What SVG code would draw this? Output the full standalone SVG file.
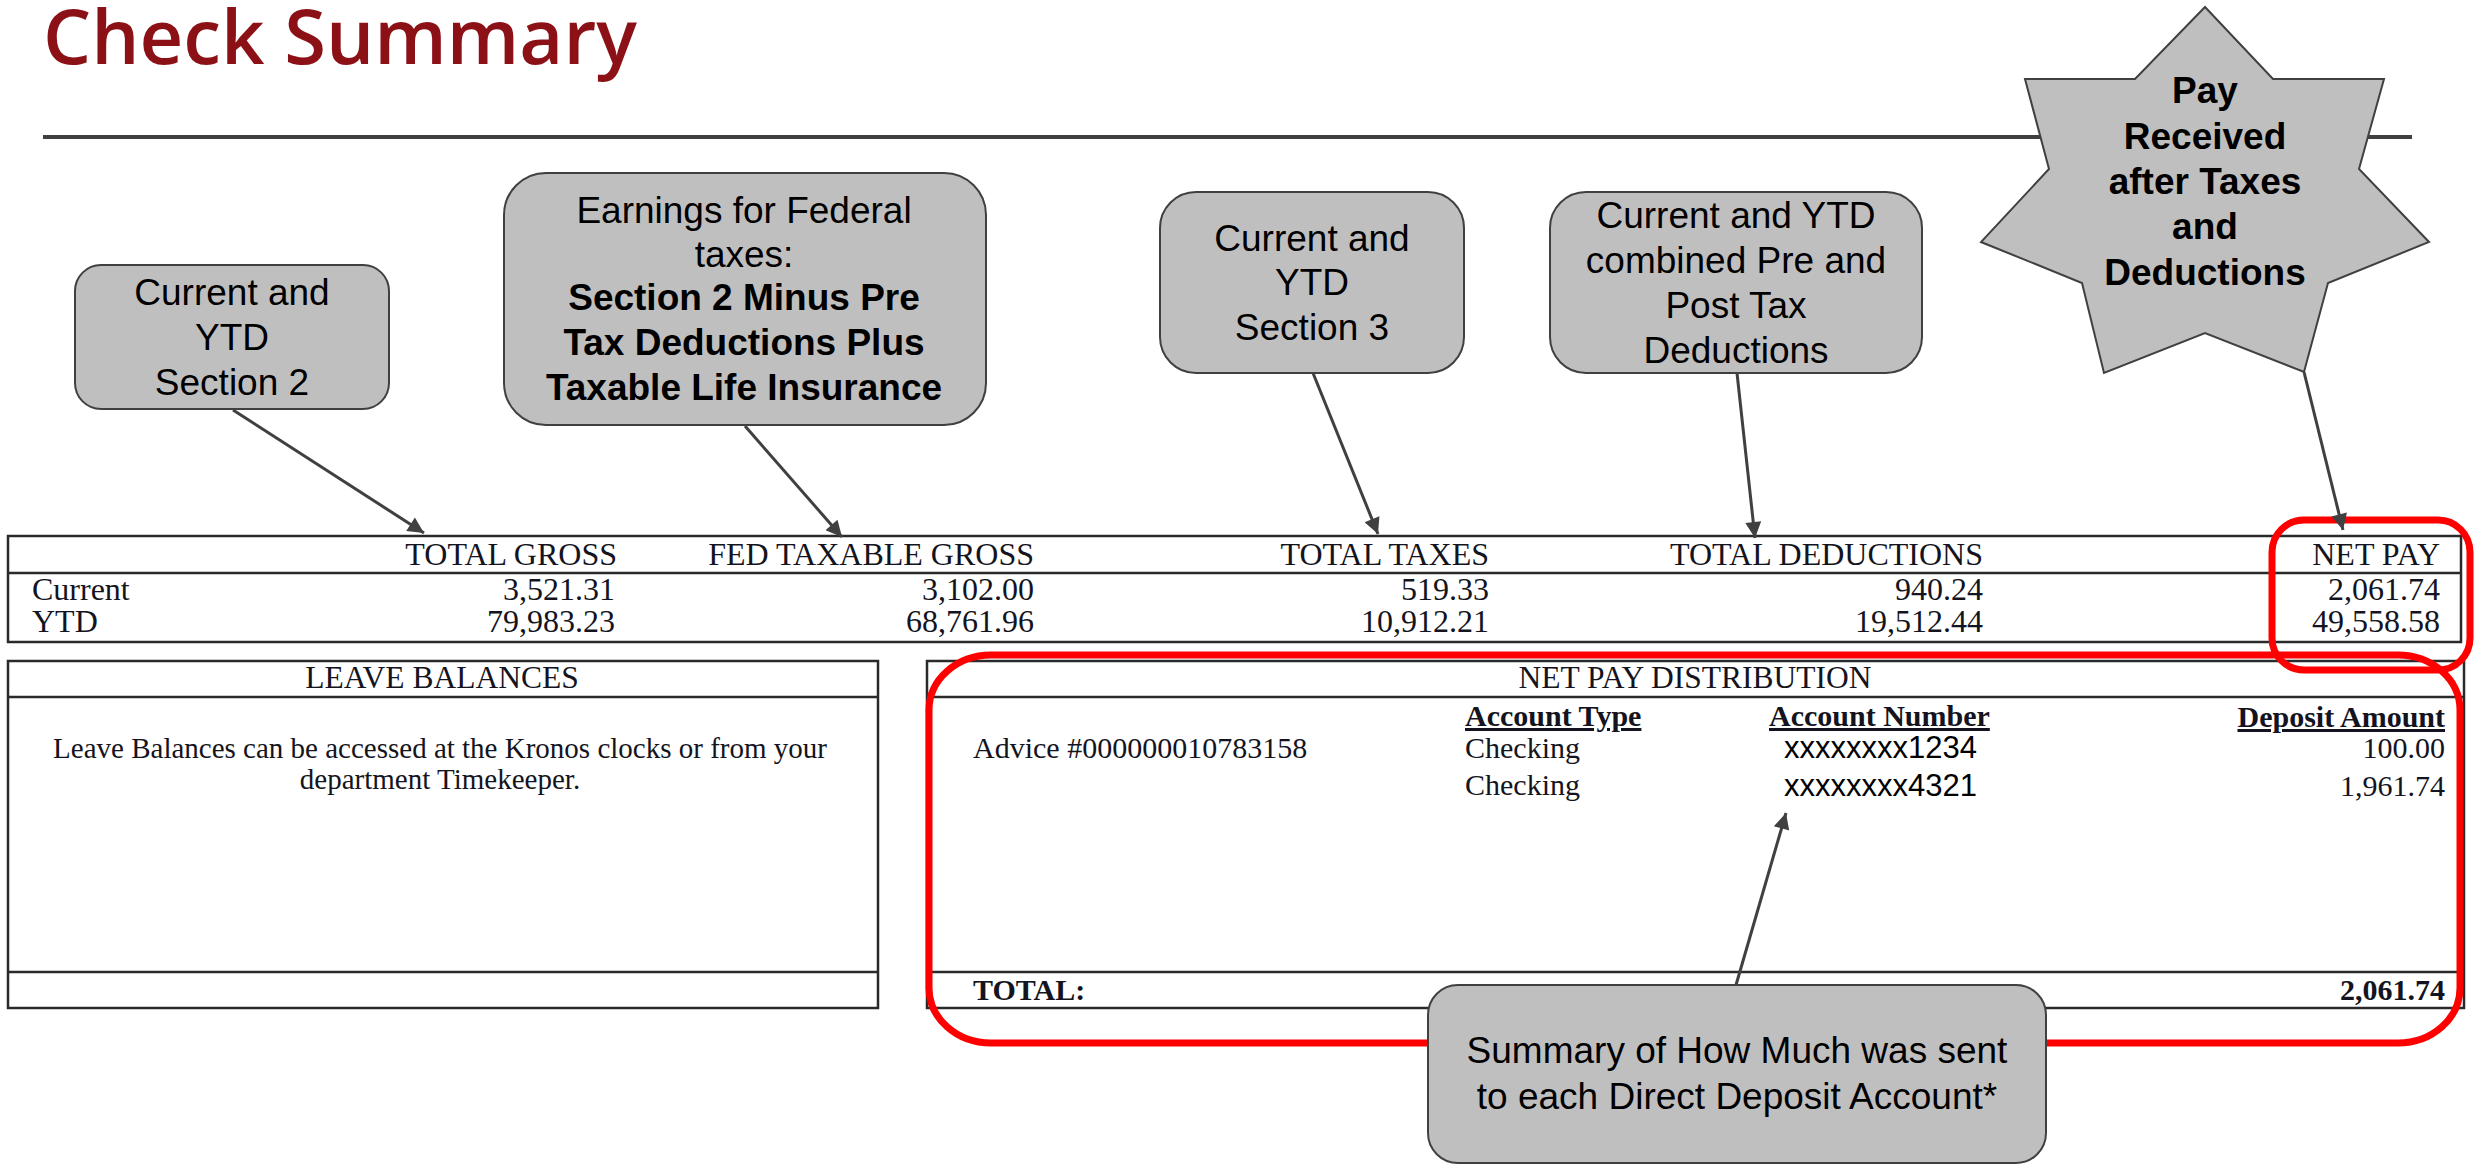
<svg xmlns="http://www.w3.org/2000/svg" width="2476" height="1166" viewBox="0 0 2476 1166">
<defs>
<style>
.title{font-family:"Open Sans","Liberation Sans",sans-serif;font-weight:600;font-size:76px;fill:#8c1116}
.call{fill:#c0bfc0;stroke:#404040;stroke-width:2}
.ct{font-family:"Liberation Sans",Arial,sans-serif;font-size:37px;fill:#000;text-anchor:middle}
.b{font-weight:bold}
.tb{fill:none;stroke:#2a2a2a;stroke-width:2.5}
.tl{stroke:#2a2a2a;stroke-width:2.5}
.tt{font-family:"Liberation Serif","Times New Roman",serif;font-size:30px;fill:#141420}
.th{font-size:32px}
.hd{font-size:31.5px}
.bd{font-size:29px}
.r{text-anchor:end}
.m{text-anchor:middle}
.acc{font-family:"Liberation Sans",Arial,sans-serif;font-size:31px;fill:#000}
.red{fill:none;stroke:#ff0000;stroke-width:7}
.conn{stroke:#404040;stroke-width:3;fill:none;marker-end:url(#ah)}
</style>
<marker id="ah" viewBox="0 0 10 10" refX="10" refY="5" markerWidth="22" markerHeight="16" markerUnits="userSpaceOnUse" orient="auto">
<path d="M0,0 L10,5 L0,10 z" fill="#404040"/>
</marker>
</defs>
<rect width="2476" height="1166" fill="#ffffff"/>

<g id="title">
<text class="title" x="43" y="64">Check Summary</text>
<line x1="43" y1="137" x2="2412" y2="137" stroke="#404040" stroke-width="4"/>
</g>

<g id="summary-table">
<rect class="tb" x="8" y="536" width="2453" height="106"/>
<line class="tl" x1="8" y1="573" x2="2461" y2="573"/>
<text class="tt th r" x="617" y="565">TOTAL GROSS</text>
<text class="tt th r" x="1034" y="565">FED TAXABLE GROSS</text>
<text class="tt th r" x="1489" y="565">TOTAL TAXES</text>
<text class="tt th r" x="1983" y="565">TOTAL DEDUCTIONS</text>
<text class="tt th r" x="2440" y="565">NET PAY</text>
<text class="tt th" x="32" y="600">Current</text>
<text class="tt th" x="32" y="632">YTD</text>
<text class="tt th r" x="615" y="600">3,521.31</text>
<text class="tt th r" x="615" y="632">79,983.23</text>
<text class="tt th r" x="1034" y="600">3,102.00</text>
<text class="tt th r" x="1034" y="632">68,761.96</text>
<text class="tt th r" x="1489" y="600">519.33</text>
<text class="tt th r" x="1489" y="632">10,912.21</text>
<text class="tt th r" x="1983" y="600">940.24</text>
<text class="tt th r" x="1983" y="632">19,512.44</text>
<text class="tt th r" x="2440" y="600">2,061.74</text>
<text class="tt th r" x="2440" y="632">49,558.58</text>
</g>

<g id="leave-balances">
<rect class="tb" x="8" y="661" width="870" height="347"/>
<line class="tl" x1="8" y1="697" x2="878" y2="697"/>
<line class="tl" x1="8" y1="972" x2="878" y2="972"/>
<text class="tt hd m" x="442" y="688">LEAVE BALANCES</text>
<text class="tt bd m" x="440" y="758">Leave Balances can be accessed at the Kronos clocks or from your</text>
<text class="tt bd m" x="440" y="789">department Timekeeper.</text>
</g>

<g id="net-pay-distribution">
<rect class="tb" x="927" y="661" width="1537" height="347"/>
<line class="tl" x1="927" y1="697" x2="2464" y2="697"/>
<line class="tl" x1="927" y1="972" x2="2464" y2="972"/>
<text class="tt hd m" x="1695" y="688">NET PAY DISTRIBUTION</text>
<text class="tt" x="973" y="758">Advice #000000010783158</text>
<text class="tt b" x="1465" y="726" text-decoration="underline">Account Type</text>
<text class="tt b" x="1769" y="726" text-decoration="underline">Account Number</text>
<text class="tt b r" x="2445" y="727" text-decoration="underline">Deposit Amount</text>
<text class="tt" x="1465" y="758">Checking</text>
<text class="tt" x="1465" y="795">Checking</text>
<text class="acc" x="1784" y="758">xxxxxxxx1234</text>
<text class="acc" x="1784" y="796">xxxxxxxx4321</text>
<text class="tt r" x="2445" y="758">100.00</text>
<text class="tt r" x="2445" y="796">1,961.74</text>
<text class="tt b" x="973" y="1000">TOTAL:</text>
<text class="tt b r" x="2445" y="1000">2,061.74</text>
</g>

<g id="highlights">
<rect class="red" x="929" y="655" width="1531" height="388" rx="62" ry="55"/>
<rect class="red" x="2272" y="520" width="198" height="150" rx="32" ry="32"/>
</g>

<g id="connectors">
<line class="conn" x1="233" y1="410" x2="424" y2="533"/>
<line class="conn" x1="745" y1="426" x2="842" y2="537"/>
<line class="conn" x1="1313" y1="373" x2="1378" y2="534"/>
<line class="conn" x1="1737" y1="373" x2="1755" y2="538"/>
<line class="conn" x1="2304" y1="372" x2="2343" y2="530" stroke-width="5"/>
<line class="conn" x1="1736" y1="985" x2="1786" y2="813"/>
</g>

<g id="callout-section2">
<rect class="call" x="75" y="265" width="314" height="144" rx="26"/>
<text class="ct" x="232" y="305">Current and</text>
<text class="ct" x="232" y="350">YTD</text>
<text class="ct" x="232" y="395">Section 2</text>
</g>

<g id="callout-fed">
<rect class="call" x="504" y="173" width="482" height="252" rx="42"/>
<text class="ct" x="744" y="223">Earnings for Federal</text>
<text class="ct" x="744" y="267">taxes:</text>
<text class="ct b" x="744" y="310">Section 2 Minus Pre</text>
<text class="ct b" x="744" y="355">Tax Deductions Plus</text>
<text class="ct b" x="744" y="400">Taxable Life Insurance</text>
</g>

<g id="callout-section3">
<rect class="call" x="1160" y="192" width="304" height="181" rx="36"/>
<text class="ct" x="1312" y="251">Current and</text>
<text class="ct" x="1312" y="295">YTD</text>
<text class="ct" x="1312" y="340">Section 3</text>
</g>

<g id="callout-deductions">
<rect class="call" x="1550" y="192" width="372" height="181" rx="36"/>
<text class="ct" x="1736" y="228">Current and YTD</text>
<text class="ct" x="1736" y="273">combined Pre and</text>
<text class="ct" x="1736" y="318">Post Tax</text>
<text class="ct" x="1736" y="363">Deductions</text>
</g>

<g id="star-netpay">
<polygon class="call" points="2205,7 2273,79 2384,79 2359,169 2429,242 2328,283 2304,372 2205,333 2104,373 2082,283 1981,242 2049,169 2025,79 2135,79"/>
<text class="ct b" x="2205" y="103">Pay</text>
<text class="ct b" x="2205" y="149">Received</text>
<text class="ct b" x="2205" y="194">after Taxes</text>
<text class="ct b" x="2205" y="239">and</text>
<text class="ct b" x="2205" y="285">Deductions</text>
</g>

<g id="callout-summary">
<rect class="call" x="1428" y="985" width="618" height="178" rx="30"/>
<text class="ct" x="1737" y="1063">Summary of How Much was sent</text>
<text class="ct" x="1737" y="1109">to each Direct Deposit Account*</text>
</g>
</svg>
